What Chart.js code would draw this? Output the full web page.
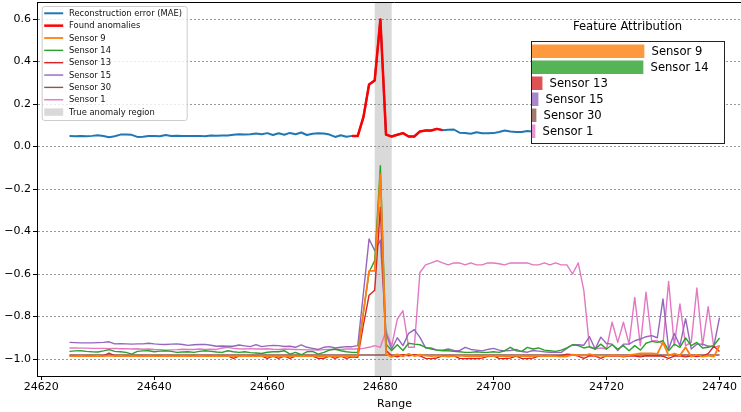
<!DOCTYPE html>
<html><head><meta charset="utf-8">
<script src="https://cdn.jsdelivr.net/npm/chart.js@4/dist/chart.umd.min.js"></script>
<style>
html,body{margin:0;padding:0;overflow:hidden;background:#fff;width:741px;height:412px;}
#wrap{position:relative;width:760px;height:412px;}
#main{position:absolute;left:0;top:0;width:760px;height:412px;}
#inset{position:absolute;left:521px;top:12px;width:213px;height:140px;}
</style></head><body>
<div id="wrap">
<canvas id="main" width="760" height="412"></canvas>
<canvas id="inset" width="213" height="140"></canvas>
</div>
<script>
// ---------- DATA ----------
const xValues = [24625,24626,24627,24628,24629,24630,24631,24632,24633,24634,
24635,24636,24637,24638,24639,24640,24641,24642,24643,24644,
24645,24646,24647,24648,24649,24650,24651,24652,24653,24654,
24655,24656,24657,24658,24659,24660,24661,24662,24663,24664,
24665,24666,24667,24668,24669,24670,24671,24672,24673,24674,
24675,24676,24677,24678,24679,24680,24681,24682,24683,24684,
24685,24686,24687,24688,24689,24690,24691,24692,24693,24694,
24695,24696,24697,24698,24699,24700,24701,24702,24703,24704,
24705,24706,24707,24708,24709,24710,24711,24712,24713,24714,
24715,24716,24717,24718,24719,24720,24721,24722,24723,24724,
24725,24726,24727,24728,24729,24730,24731,24732,24733,24734,
24735,24736,24737,24738,24739,24740];

const maeValues = [0.049,0.048,0.049,0.048,0.050,0.053,0.049,0.044,0.048,0.056,
0.057,0.055,0.045,0.046,0.049,0.049,0.048,0.054,0.049,0.051,
0.049,0.050,0.049,0.050,0.048,0.052,0.051,0.052,0.052,0.055,
0.058,0.056,0.058,0.061,0.058,0.063,0.054,0.062,0.055,0.064,
0.058,0.066,0.054,0.060,0.062,0.061,0.056,0.045,0.053,0.046,
0.050,0.050,0.138,0.292,0.311,0.598,0.056,0.047,0.055,0.063,
0.047,0.047,0.071,0.075,0.075,0.083,0.077,0.079,0.080,0.065,
0.063,0.060,0.067,0.062,0.062,0.063,0.068,0.075,0.071,0.068,
0.068,0.073,0.070,0.066,0.072,0.069,0.064,0.071,0.068,0.074,
0.070,0.066,0.069,0.073,0.067,0.071,0.075,0.068,0.072,0.070,
0.066,0.072,0.069,0.074,0.070,0.068,0.073,0.069,0.071,0.067,
0.072,0.070,0.068,0.073,0.069,0.071];

const anomalyX = [24675,24676,24677,24678,24679,24680,24681,24682,24683,24684,24685,24686,24687,24688,24689,24690,24691];
const anomalyY = [0.050,0.050,0.138,0.292,0.311,0.598,0.056,0.047,0.055,0.063,0.047,0.047,0.071,0.075,0.075,0.083,0.077];

const sensor9 = [-0.986,-0.986,-0.985,-0.986,-0.986,-0.985,-0.986,-0.984,-0.986,-0.985,
-0.986,-0.985,-0.986,-0.986,-0.985,-0.986,-0.986,-0.985,-0.986,-0.986,
-0.985,-0.986,-0.986,-0.985,-0.986,-0.986,-0.985,-0.986,-0.986,-0.988,
-0.986,-0.985,-0.986,-0.986,-0.985,-0.988,-0.986,-0.988,-0.986,-0.988,
-0.986,-0.985,-0.986,-0.986,-0.988,-0.988,-0.986,-0.988,-0.986,-0.988,
-0.986,-0.985,-0.780,-0.585,-0.585,-0.130,-0.977,-0.990,-0.978,-0.988,
-0.976,-0.986,-0.980,-0.984,-0.986,-0.984,-0.986,-0.988,-0.986,-0.984,
-0.986,-0.985,-0.988,-0.986,-0.984,-0.986,-0.985,-0.988,-0.986,-0.984,
-0.986,-0.988,-0.986,-0.984,-0.986,-0.985,-0.986,-0.989,-0.988,-0.980,
-0.982,-0.984,-0.977,-0.984,-0.984,-0.986,-0.982,-0.984,-0.986,-0.982,
-0.978,-0.974,-0.974,-0.974,-0.976,-0.922,-0.984,-0.974,-0.984,-0.945,
-0.989,-0.980,-0.989,-0.984,-0.989,-0.937];

const sensor14 = [-0.964,-0.962,-0.961,-0.964,-0.966,-0.967,-0.962,-0.956,-0.964,-0.966,
-0.969,-0.977,-0.964,-0.962,-0.961,-0.966,-0.963,-0.961,-0.964,-0.969,
-0.967,-0.966,-0.969,-0.964,-0.961,-0.964,-0.967,-0.969,-0.961,-0.966,
-0.969,-0.966,-0.970,-0.972,-0.974,-0.968,-0.966,-0.966,-0.961,-0.977,
-0.969,-0.980,-0.966,-0.964,-0.977,-0.969,-0.958,-0.953,-0.961,-0.966,
-0.969,-0.969,-0.780,-0.592,-0.537,-0.090,-0.930,-0.960,-0.933,-0.960,
-0.926,-0.930,-0.933,-0.945,-0.953,-0.958,-0.961,-0.961,-0.964,-0.966,
-0.969,-0.969,-0.966,-0.969,-0.969,-0.966,-0.969,-0.961,-0.945,-0.961,
-0.964,-0.945,-0.953,-0.948,-0.958,-0.961,-0.964,-0.958,-0.948,-0.933,
-0.937,-0.948,-0.942,-0.953,-0.930,-0.953,-0.933,-0.953,-0.937,-0.961,
-0.937,-0.958,-0.926,-0.917,-0.922,-0.914,-0.961,-0.930,-0.945,-0.901,
-0.937,-0.922,-0.948,-0.945,-0.937,-0.901];

const sensor13 = [-0.985,-0.985,-0.986,-0.985,-0.985,-0.986,-0.985,-0.972,-0.985,-0.986,
-0.985,-0.985,-0.986,-0.985,-0.985,-0.986,-0.985,-0.985,-0.986,-0.985,
-0.985,-0.986,-0.985,-0.985,-0.986,-0.985,-0.985,-0.986,-0.985,-0.997,
-0.986,-0.985,-0.986,-0.985,-0.986,-0.997,-0.986,-0.997,-0.986,-0.997,
-0.986,-0.985,-0.986,-0.986,-0.997,-0.997,-0.986,-0.997,-0.986,-0.997,
-0.990,-0.992,-0.840,-0.700,-0.676,-0.286,-0.960,-0.985,-0.990,-0.980,
-0.985,-0.980,-0.985,-0.997,-0.998,-0.995,-0.985,-0.988,-0.985,-0.997,
-0.998,-0.997,-0.998,-0.996,-0.988,-0.985,-0.997,-0.998,-0.996,-0.986,
-0.997,-0.998,-0.996,-0.986,-0.985,-0.986,-0.985,-0.984,-0.977,-0.980,
-0.986,-0.997,-0.985,-0.986,-0.997,-0.985,-0.986,-0.985,-0.990,-0.985,
-0.986,-0.990,-0.985,-0.986,-0.985,-0.987,-0.997,-0.986,-0.985,-0.990,
-0.986,-0.988,-0.985,-0.975,-0.940,-0.965];

const sensor15 = [-0.922,-0.923,-0.924,-0.924,-0.924,-0.923,-0.922,-0.919,-0.929,-0.928,
-0.929,-0.930,-0.929,-0.929,-0.926,-0.929,-0.931,-0.932,-0.930,-0.929,
-0.932,-0.936,-0.933,-0.932,-0.931,-0.935,-0.940,-0.939,-0.940,-0.940,
-0.934,-0.938,-0.942,-0.932,-0.942,-0.938,-0.936,-0.937,-0.941,-0.940,
-0.945,-0.934,-0.945,-0.950,-0.955,-0.945,-0.942,-0.948,-0.945,-0.942,
-0.942,-0.937,-0.690,-0.435,-0.490,-0.440,-0.880,-0.953,-0.900,-0.937,
-0.879,-0.862,-0.898,-0.948,-0.948,-0.958,-0.958,-0.953,-0.960,-0.961,
-0.945,-0.955,-0.958,-0.962,-0.955,-0.950,-0.958,-0.962,-0.960,-0.955,
-0.965,-0.968,-0.960,-0.963,-0.966,-0.968,-0.969,-0.969,-0.950,-0.933,
-0.933,-0.935,-0.895,-0.953,-0.897,-0.927,-0.930,-0.960,-0.930,-0.930,
-0.914,-0.906,-0.895,-0.890,-0.900,-0.717,-0.953,-0.880,-0.937,-0.810,
-0.953,-0.930,-0.930,-0.940,-0.940,-0.805];

const sensor30 = [-0.981,-0.981,-0.981,-0.981,-0.981,-0.981,-0.981,-0.981,-0.981,-0.981,
-0.981,-0.981,-0.981,-0.981,-0.981,-0.981,-0.981,-0.981,-0.981,-0.981,
-0.981,-0.981,-0.981,-0.981,-0.981,-0.981,-0.981,-0.981,-0.981,-0.981,
-0.981,-0.981,-0.981,-0.981,-0.981,-0.981,-0.981,-0.981,-0.981,-0.981,
-0.981,-0.981,-0.981,-0.981,-0.981,-0.981,-0.981,-0.981,-0.981,-0.981,
-0.981,-0.981,-0.981,-0.981,-0.981,-0.981,-0.981,-0.981,-0.981,-0.981,
-0.981,-0.981,-0.981,-0.981,-0.981,-0.981,-0.981,-0.981,-0.981,-0.981,
-0.981,-0.981,-0.981,-0.981,-0.981,-0.981,-0.981,-0.981,-0.981,-0.981,
-0.981,-0.981,-0.981,-0.981,-0.981,-0.981,-0.981,-0.981,-0.981,-0.981,
-0.981,-0.981,-0.981,-0.981,-0.981,-0.981,-0.981,-0.981,-0.981,-0.981,
-0.981,-0.981,-0.981,-0.981,-0.981,-0.981,-0.981,-0.981,-0.981,-0.981,
-0.981,-0.981,-0.981,-0.981,-0.981,-0.981];

const sensor1 = [-0.948,-0.948,-0.949,-0.949,-0.950,-0.950,-0.950,-0.951,-0.950,-0.952,
-0.951,-0.953,-0.952,-0.954,-0.953,-0.955,-0.956,-0.958,-0.957,-0.956,
-0.954,-0.955,-0.955,-0.953,-0.955,-0.954,-0.955,-0.948,-0.945,-0.950,
-0.952,-0.953,-0.951,-0.953,-0.953,-0.952,-0.954,-0.955,-0.953,-0.954,
-0.955,-0.956,-0.957,-0.957,-0.958,-0.956,-0.955,-0.954,-0.955,-0.953,
-0.953,-0.953,-0.950,-0.945,-0.937,-0.945,-0.867,-0.938,-0.812,-0.773,
-0.945,-0.945,-0.593,-0.557,-0.548,-0.537,-0.548,-0.557,-0.548,-0.548,
-0.557,-0.548,-0.557,-0.557,-0.548,-0.548,-0.552,-0.557,-0.548,-0.548,
-0.548,-0.548,-0.557,-0.557,-0.548,-0.557,-0.548,-0.557,-0.557,-0.600,
-0.548,-0.678,-0.945,-0.953,-0.948,-0.953,-0.827,-0.922,-0.827,-0.930,
-0.710,-0.937,-0.686,-0.914,-0.914,-0.930,-0.635,-0.937,-0.741,-0.937,
-0.922,-0.666,-0.937,-0.754,-0.945,-0.937];

const anomalyRegion = [24679, 24682];
const xTicks = [24620, 24640, 24660, 24680, 24700, 24720, 24740];
const yTicks = [-1.0, -0.8, -0.6, -0.4, -0.2, 0.0, 0.2, 0.4, 0.6];

const attrLabels = ['Sensor 9', 'Sensor 14', 'Sensor 13', 'Sensor 15', 'Sensor 30', 'Sensor 1'];
const attrValues = [0.448, 0.444, 0.044, 0.028, 0.020, 0.016];

// ---------- STYLE ----------
Chart.defaults.font.family = "'DejaVu Sans', sans-serif";
Chart.defaults.color = '#000';

const seriesDefs = [
  {label: 'Reconstruction error (MAE)', xs: xValues, ys: maeValues, color: '#1f77b4', width: 2.0, order: 7},
  {label: 'Found anomalies', xs: anomalyX, ys: anomalyY, color: '#ff0000', width: 2.5, order: 6},
  {label: 'Sensor 9',  xs: xValues, ys: sensor9,  color: '#ff7f0e', width: 1.8, order: 0},
  {label: 'Sensor 14', xs: xValues, ys: sensor14, color: '#2ca02c', width: 1.4, order: 1},
  {label: 'Sensor 13', xs: xValues, ys: sensor13, color: '#d62728', width: 1.4, order: 2},
  {label: 'Sensor 15', xs: xValues, ys: sensor15, color: '#9467bd', width: 1.4, order: 3},
  {label: 'Sensor 30', xs: xValues, ys: sensor30, color: '#8c564b', width: 1.4, order: 4},
  {label: 'Sensor 1',  xs: xValues, ys: sensor1,  color: '#e377c2', width: 1.4, order: 5}
];
const bandColor = 'rgba(128,128,128,0.3)';
const bandLabel = 'True anomaly region';

const bandPlugin = {
  id: 'band',
  beforeDatasetsDraw(chart) {
    const {ctx, chartArea, scales} = chart;
    const x1 = scales.x.getPixelForValue(anomalyRegion[0]);
    const x2 = scales.x.getPixelForValue(anomalyRegion[1]);
    ctx.save();
    ctx.fillStyle = bandColor;
    ctx.fillRect(x1, chartArea.top, x2 - x1, chartArea.bottom - chartArea.top);
    ctx.restore();
  }
};

const framePlugin = {
  id: 'frame',
  afterDraw(chart) {
    const {ctx, chartArea} = chart;
    ctx.save();
    ctx.strokeStyle = '#000';
    ctx.lineWidth = 1;
    ctx.beginPath();
    ctx.moveTo(chartArea.left, Math.round(chartArea.top) + 0.5);
    ctx.lineTo(chartArea.right, Math.round(chartArea.top) + 0.5);
    ctx.stroke();
    ctx.restore();
  }
};

const legendPlugin = {
  id: 'innerLegend',
  afterDatasetsDraw(chart) {
    const {ctx, chartArea} = chart;
    const bx = chartArea.left + 4.7, by = chartArea.top + 4, bw = 145, bh = 114;
    ctx.save();
    ctx.beginPath();
    if (ctx.roundRect) ctx.roundRect(bx + 0.5, by + 0.5, bw, bh, 2.5); else ctx.rect(bx + 0.5, by + 0.5, bw, bh);
    ctx.fillStyle = 'rgba(255,255,255,0.8)';
    ctx.fill();
    ctx.strokeStyle = '#cccccc';
    ctx.lineWidth = 1;
    ctx.stroke();
    ctx.font = "8.4px 'DejaVu Sans'";
    ctx.textBaseline = 'middle';
    ctx.fillStyle = '#111';
    const rows = chart.data.datasets.map(d => ({label: d.label, color: d.borderColor, width: d.borderWidth}));
    rows.push({label: bandLabel, patch: true});
    rows.forEach((r, k) => {
      const cy = by + 7.3 + k * 12.35;
      if (r.patch) {
        ctx.fillStyle = bandColor;
        ctx.fillRect(bx + 2.5, cy - 3.7, 19, 7.4);
      } else {
        ctx.strokeStyle = r.color;
        ctx.lineWidth = r.width;
        ctx.beginPath();
        ctx.moveTo(bx + 2.5, cy);
        ctx.lineTo(bx + 21.5, cy);
        ctx.stroke();
      }
      ctx.fillStyle = '#111';
      ctx.fillText(r.label, bx + 27.3, cy + 0.5);
    });
    ctx.restore();
  }
};

new Chart(document.getElementById('main'), {
  type: 'line',
  data: {
    datasets: seriesDefs.map(d => ({
      label: d.label,
      data: d.xs.map((x, i) => ({x: x, y: d.ys[i]})),
      borderColor: d.color,
      backgroundColor: d.color,
      borderWidth: d.width,
      order: d.order,
      pointRadius: 0,
      tension: 0,
      fill: false,
      borderJoinStyle: 'round',
      borderCapStyle: 'butt'
    }))
  },
  options: {
    responsive: false,
    animation: false,
    devicePixelRatio: 1,
    layout: {padding: {left: 0, right: 8, top: 2, bottom: 0}},
    plugins: {legend: {display: false}, tooltip: {enabled: false}},
    scales: {
      x: {
        type: 'linear', min: 24619.25, max: 24745.75,
        afterBuildTicks: s => { s.ticks = xTicks.map(v => ({value: v})); },
        afterFit: s => { s.height = 36; s.paddingLeft = 0; s.paddingRight = 0; },
        ticks: {font: {size: 11}, color: '#000', padding: 1, maxRotation: 0, autoSkip: false,
                callback: v => String(v)},
        grid: {display: true, drawOnChartArea: false, drawTicks: true, tickLength: 4, tickColor: '#000', tickWidth: 1},
        border: {display: true, color: '#000', width: 1},
        title: {display: true, text: 'Range', font: {size: 11}, color: '#000', padding: {top: 0, bottom: 1}}
      },
      y: {
        type: 'linear', min: -1.08, max: 0.68,
        afterBuildTicks: s => { s.ticks = yTicks.map(v => ({value: v})); },
        afterFit: s => { s.width = 37; s.paddingTop = 0; s.paddingBottom = 0; },
        ticks: {font: {size: 11}, color: '#000', padding: 2,
                callback: v => v.toFixed(1).replace('-', '\u2212')},
        grid: {display: true, color: 'rgba(110,110,110,0.7)', lineWidth: 1, drawTicks: true, tickLength: 4,
               tickColor: '#000', tickWidth: 1, tickBorderDash: []},
        border: {display: true, color: '#000', width: 1, dash: [2, 2]}
      }
    }
  },
  plugins: [bandPlugin, legendPlugin, framePlugin]
});

// ---------- INSET: Feature Attribution ----------
const attrColors = ['rgba(255,127,14,0.8)', 'rgba(44,160,44,0.8)', 'rgba(214,39,40,0.8)',
                    'rgba(148,103,189,0.8)', 'rgba(140,86,75,0.8)', 'rgba(227,119,194,0.8)'];

const insetPlugin = {
  id: 'insetDeco',
  beforeDatasetsDraw(chart) {
    const {ctx, chartArea: a} = chart;
    ctx.save();
    ctx.fillStyle = '#fff';
    ctx.fillRect(a.left, a.top, a.right - a.left, a.bottom - a.top);
    ctx.restore();
  },
  afterDraw(chart) {
    const {ctx, chartArea: a, scales} = chart;
    ctx.save();
    ctx.strokeStyle = '#222';
    ctx.lineWidth = 1;
    ctx.strokeRect(Math.round(a.left) + 0.5, Math.round(a.top) + 0.5,
                   Math.round(a.right - a.left), Math.round(a.bottom - a.top));
    ctx.fillStyle = '#000';
    ctx.font = "11.6px 'DejaVu Sans'";
    ctx.textAlign = 'center';
    ctx.textBaseline = 'middle';
    ctx.fillText('Feature Attribution', (a.left + a.right) / 2, a.top - 14);
    ctx.textAlign = 'left';
    attrLabels.forEach((lab, i) => {
      const xe = scales.x.getPixelForValue(attrValues[i]);
      const yc = scales.y.getPixelForValue(i);
      ctx.fillText(lab, xe + 7.5, yc + 0.5);
    });
    ctx.restore();
  }
};

new Chart(document.getElementById('inset'), {
  type: 'bar',
  data: {
    datasets: [{
      data: attrValues.map((v, i) => ({x: v, y: i})),
      backgroundColor: attrColors,
      borderWidth: 0,
      barThickness: 12.7
    }]
  },
  options: {
    indexAxis: 'y',
    responsive: false,
    animation: false,
    devicePixelRatio: 1,
    layout: {padding: {left: 10, right: 10, top: 28.7, bottom: 9.3}},
    plugins: {legend: {display: false}, tooltip: {enabled: false}},
    scales: {
      x: {type: 'linear', min: 0, max: 0.765, display: false, offset: false},
      y: {type: 'linear', min: -0.6625, max: 5.7125, reverse: true, display: false, offset: false}
    }
  },
  plugins: [insetPlugin]
});
</script>
</body></html>
